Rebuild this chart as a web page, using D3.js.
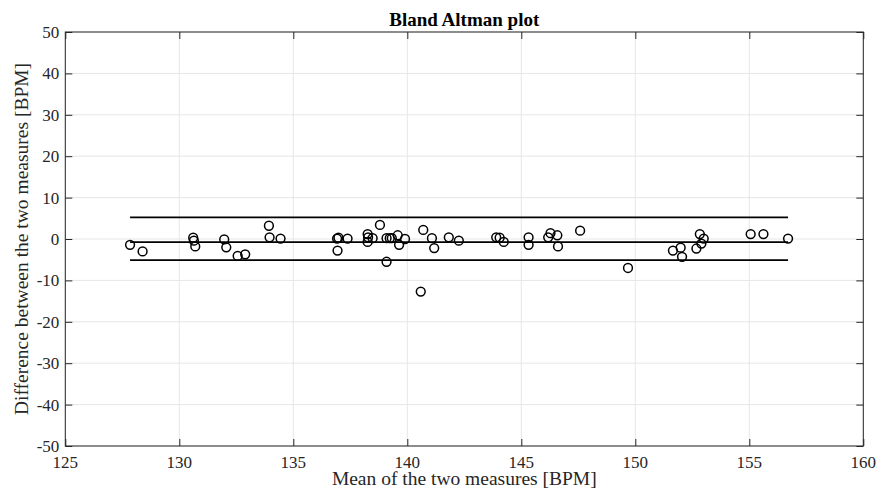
<!DOCTYPE html>
<html>
<head>
<meta charset="utf-8">
<style>
  body { margin: 0; background: #fff; }
  text { font-family: "Liberation Serif", "Times New Roman", serif; fill: #262626; }
</style>
<script src="https://cdn.jsdelivr.net/npm/d3@7"></script>
</head>
<body>
<svg id="chart" width="877" height="496"></svg>
<script>
// means of the two measures (x) and their differences (y)
var meanVals = [127.84, 128.39, 130.61, 130.64, 130.70, 131.97, 132.06, 132.56, 132.89,
  133.93, 133.96, 134.44, 136.92, 136.98, 136.94, 137.38,
  138.26, 138.28, 138.26, 138.48, 138.80, 139.09, 139.09, 139.23, 139.32, 139.58, 139.64, 139.90,
  140.59, 140.70, 141.08, 141.18, 141.82, 142.26,
  143.90, 144.05, 144.23, 145.32, 145.32, 146.18, 146.28, 146.61, 146.58, 147.58,
  149.68, 151.65, 151.99, 152.05, 152.68, 152.83, 152.90, 153.00,
  155.06, 155.62, 156.70];
var diffVals = [-1.4, -3.0, 0.3, -0.4, -1.8, -0.1, -2.0, -4.1, -3.7,
  3.2, 0.4, 0.1, 0.1, 0.3, -2.8, 0.1,
  1.2, 0.4, -0.7, 0.2, 3.4, -5.5, 0.2, 0.2, 0.2, 0.9, -1.4, 0.0,
  -12.7, 2.2, 0.2, -2.2, 0.4, -0.4,
  0.4, 0.3, -0.7, -1.4, 0.4, 0.4, 1.4, -1.8, 0.9, 2.0,
  -7.0, -2.8, -2.1, -4.3, -2.3, 1.2, -1.1, 0.1,
  1.2, 1.2, 0.1];
// mean difference and limits of agreement
var limitVals = [5.2, -0.75, -5.1];
var xTicks = [125, 130, 135, 140, 145, 150, 155, 160];
var yTicks = [-50, -40, -30, -20, -10, 0, 10, 20, 30, 40, 50];

var svg = d3.select("#chart");
var pL = 65.3, pR = 863.3, pT = 32, pB = 446;

var x = d3.scaleLinear().domain([125, 160]).range([pL, pR]);
var y = d3.scaleLinear().domain([-50, 50]).range([pB, pT]);

// grid
svg.append("g").selectAll("line").data(xTicks).join("line")
  .attr("x1", d => x(d)).attr("x2", d => x(d))
  .attr("y1", pT).attr("y2", pB)
  .attr("stroke", "#e6e6e6").attr("stroke-width", 1);
svg.append("g").selectAll("line").data(yTicks).join("line")
  .attr("x1", pL).attr("x2", pR)
  .attr("y1", d => y(d)).attr("y2", d => y(d))
  .attr("stroke", "#e6e6e6").attr("stroke-width", 1);

// axes, ticks pointing inwards
var axisColor = "#262626";
function styleAxis(g) {
  g.select(".domain").remove();
  g.selectAll(".tick line").attr("stroke", axisColor);
  g.selectAll(".tick text").remove();
}
svg.append("g").attr("transform", "translate(0," + pB + ")")
  .call(d3.axisTop(x).tickValues(xTicks).tickSize(7)).call(styleAxis);
svg.append("g").attr("transform", "translate(0," + pT + ")")
  .call(d3.axisBottom(x).tickValues(xTicks).tickSize(7)).call(styleAxis);
svg.append("g").attr("transform", "translate(" + pL + ",0)")
  .call(d3.axisRight(y).tickValues(yTicks).tickSize(7)).call(styleAxis);
svg.append("g").attr("transform", "translate(" + pR + ",0)")
  .call(d3.axisLeft(y).tickValues(yTicks).tickSize(7)).call(styleAxis);

svg.append("rect")
  .attr("x", pL).attr("y", pT)
  .attr("width", pR - pL).attr("height", pB - pT)
  .attr("fill", "none").attr("stroke", axisColor).attr("stroke-width", 1);

// tick labels
svg.append("g").selectAll("text").data(xTicks).join("text")
  .attr("x", d => x(d)).attr("y", pB + 22)
  .attr("text-anchor", "middle").attr("font-size", "17px")
  .text(d => d);
svg.append("g").selectAll("text").data(yTicks).join("text")
  .attr("x", pL - 6).attr("y", d => y(d)).attr("dy", "0.35em")
  .attr("text-anchor", "end").attr("font-size", "17px")
  .text(d => d);

// limit lines from min to max of the means
var xmin = d3.min(meanVals), xmax = d3.max(meanVals);
svg.append("g").selectAll("line").data(limitVals).join("line")
  .attr("x1", x(xmin)).attr("x2", x(xmax))
  .attr("y1", d => y(d)).attr("y2", d => y(d))
  .attr("stroke", "#000").attr("stroke-width", 1.8);

// points
svg.append("g").selectAll("circle").data(meanVals).join("circle")
  .attr("cx", d => x(d))
  .attr("cy", (d, i) => y(diffVals[i]))
  .attr("r", 4.4)
  .attr("fill", "none").attr("stroke", "#000").attr("stroke-width", 1.5);

// titles
svg.append("text")
  .attr("x", (pL + pR) / 2).attr("y", 26)
  .attr("text-anchor", "middle").attr("font-size", "19px").attr("font-weight", "bold")
  .style("fill", "#000")
  .text("Bland Altman plot");
svg.append("text")
  .attr("x", (pL + pR) / 2).attr("y", 485)
  .attr("text-anchor", "middle").attr("font-size", "19.5px")
  .text("Mean of the two measures [BPM]");
svg.append("text")
  .attr("transform", "translate(28," + (pT + pB) / 2 + ") rotate(-90)")
  .attr("text-anchor", "middle").attr("font-size", "19.5px")
  .text("Difference between the two measures [BPM]");
</script>
</body>
</html>
